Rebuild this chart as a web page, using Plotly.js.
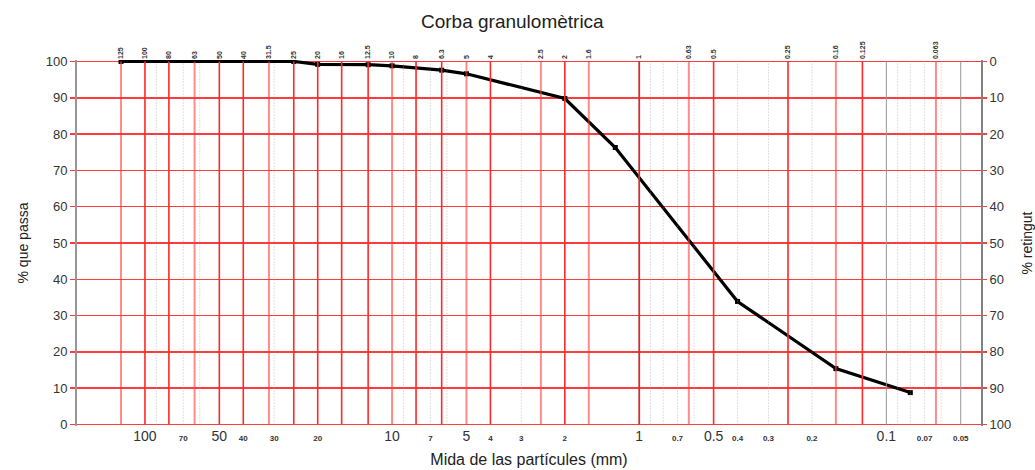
<!DOCTYPE html>
<html>
<head>
<meta charset="utf-8">
<script src="https://cdn.plot.ly/plotly-3.0.1.min.js"></script>
<style>html,body{margin:0;padding:0;background:#fff}#chart{width:1035px;height:470px}</style>
</head>
<body>
<div id="chart"></div>
<script>
// Measured grading curve
const sizes   = [125, 25, 20, 12.5, 10, 6.3, 5, 2, 1.25, 0.4, 0.16, 0.08];
const passing = [100, 100, 99.2, 99.1, 98.8, 97.6, 96.6, 89.8, 76.3, 33.9, 15.4, 8.8];

// Sieve series (top labels, red grid)
const sieves = [125, 100, 80, 63, 50, 40, 31.5, 25, 20, 16, 12.5, 10, 8, 6.3, 5, 4, 2.5, 2, 1.6, 1, 0.63, 0.5, 0.25, 0.16, 0.125, 0.063];
const sieveLabels = ["125","100","80","63","50","40","31.5","25","20","16","12.5","10","8","6.3","5","4","2.5","2","1.6","1","0.63","0.5","0.25","0.16","0.125","0.063"];
const sievesLight = [125, 63, 31.5, 10, 5, 2.5, 1.6, 0.63, 0.16, 0.063];
const sievesStrong = [100, 80, 50, 40, 25, 20, 16, 12.5, 8, 6.3, 4, 2, 0.5, 0.25, 0.125];
const sievesDark = [1];
const grayLines = [0.1, 0.05];
const dottedLines = [90, 70, 60, 30, 9, 7, 6, 3, 0.9, 0.8, 0.7, 0.6, 0.4, 0.3, 0.2, 0.09, 0.08, 0.07, 0.06];

// Bottom scale labels
const majorTicks = [100, 50, 10, 5, 1, 0.5, 0.1];
const majorLabels = ["100", "50", "10", "5", "1", "0.5", "0.1"];
const minorTicks = [70, 40, 30, 20, 7, 4, 3, 2, 0.7, 0.4, 0.3, 0.2, 0.07, 0.05];
const minorLabels = ["70", "40", "30", "20", "7", "4", "3", "2", "0.7", "0.4", "0.3", "0.2", "0.07", "0.05"];

const yTicks = [0, 10, 20, 30, 40, 50, 60, 70, 80, 90, 100];

function vlines(vals) {
  const x = [], y = [];
  vals.forEach(v => { x.push(v, v, null); y.push(0, 100, null); });
  return {x, y};
}
function lineTrace(vals, color, width, dash) {
  const p = vlines(vals);
  return {x: p.x, y: p.y, xaxis: 'x2', yaxis: 'y', mode: 'lines', type: 'scatter',
          line: {color: color, width: width, dash: dash || 'solid'},
          hoverinfo: 'skip', showlegend: false};
}

const xRange = [2.275, -1.383];

const bottomVals = majorTicks.concat(minorTicks);
const bottomText = majorLabels.map(s => "<span style='font-size:14px'>" + s + "</span>")
  .concat(minorLabels.map(s => "<b><span style='font-size:8px'>" + s + "</span></b>"));

const traces = [
  lineTrace(dottedLines, 'rgba(150,150,150,0.6)', 1, '1px,2px'),
  lineTrace(grayLines, 'rgb(150,150,150)', 1),
  lineTrace(sievesLight, 'rgba(255,60,60,0.6)', 2),
  lineTrace(sievesStrong, 'rgb(255,40,40)', 1.6),
  lineTrace(sievesDark, 'rgb(200,50,50)', 1.8),
  {x: sizes, y: passing, xaxis: 'x', yaxis: 'y', type: 'scatter', mode: 'lines+markers',
   line: {color: '#000', width: 3.2}, marker: {symbol: 'square', size: 5, color: '#000'},
   showlegend: false},
  {x: [1], y: [50], xaxis: 'x', yaxis: 'y2', type: 'scatter', mode: 'markers',
   marker: {opacity: 0}, hoverinfo: 'skip', showlegend: false}
];

const font = {family: 'Liberation Sans, Arial, sans-serif', color: '#222'};

const layout = {
  width: 1035, height: 470,
  margin: {l: 77, r: 54, t: 60, b: 44},
  paper_bgcolor: '#fff', plot_bgcolor: '#fff',
  font: font,
  showlegend: false,
  title: {text: 'Corba granulomètrica', x: 0.495, xanchor: 'center', y: 0.955, yanchor: 'middle',
          font: {family: font.family, size: 19, color: '#222'}},
  xaxis: {
    type: 'log', range: xRange, tickmode: 'array', tickvals: bottomVals, ticktext: bottomText,
    showgrid: false, zeroline: false, showline: false, ticks: '',
    tickfont: {family: font.family, size: 14, color: '#333'},
    title: {text: 'Mida de las partícules (mm)', standoff: 10, font: {family: font.family, size: 16, color: '#222'}}
  },
  xaxis2: {
    type: 'log', range: xRange, overlaying: 'x', side: 'top', tickmode: 'array',
    tickvals: sieves, ticktext: sieveLabels.map(s => '<b>' + s + '</b>'), tickangle: -90,
    showgrid: false, zeroline: false, showline: false, ticks: '',
    tickfont: {family: font.family, size: 7, color: '#333'}
  },
  yaxis: {
    range: [-0.4, 100.4], tickmode: 'array', tickvals: yTicks,
    showgrid: true, gridcolor: 'rgb(255,60,60)', gridwidth: 1.6, zeroline: false,
    showline: true, linecolor: 'rgb(150,150,150)', linewidth: 2,
    ticks: 'outside', ticklen: 5, tickcolor: 'rgb(255,60,60)', tickwidth: 1.5,
    tickfont: {family: font.family, size: 13, color: '#333'},
    title: {text: '% que passa', standoff: 14, font: {family: font.family, size: 14, color: '#222'}}
  },
  yaxis2: {
    range: [100.4, -0.4], overlaying: 'y', side: 'right', tickmode: 'array', tickvals: yTicks,
    showgrid: false, zeroline: false, showline: true, linecolor: 'rgb(130,130,130)', linewidth: 2,
    ticks: 'outside', ticklen: 4, tickcolor: 'rgb(255,60,60)', tickwidth: 1.5,
    tickfont: {family: font.family, size: 13, color: '#333'},
    title: {text: '% retingut', standoff: 14, font: {family: font.family, size: 14, color: '#222'}}
  }
};

Plotly.newPlot('chart', traces, layout, {staticPlot: true, displayModeBar: false});
</script>
</body>
</html>
